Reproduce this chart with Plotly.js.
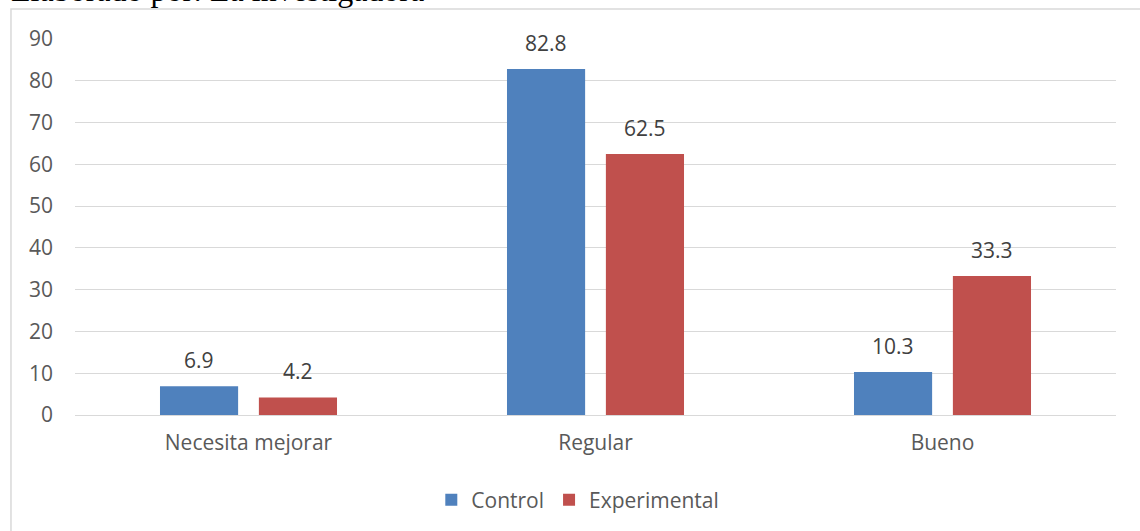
<!DOCTYPE html>
<html><head><meta charset="utf-8">
<script src="https://cdn.plot.ly/plotly-3.0.1.min.js"></script>
<style>html,body{margin:0;padding:0;background:#fff;}#chart{width:1140px;height:531px;}</style>
</head><body><div id="chart"></div>
<script>
const categories = ["Necesita mejorar", "Regular", "Bueno"];
const controlValues = [6.9, 82.8, 10.3];
const experimentalValues = [4.2, 62.5, 33.3];
const seriesNames = ["Control", "Experimental"];
const yTicks = [0, 10, 20, 30, 40, 50, 60, 70, 80, 90];

const colors = ["#4F81BD", "#C0504D"];
const fontFam = "Open Sans, Noto Sans, sans-serif";

const traces = [controlValues, experimentalValues].map((vals, i) => ({
  type: "bar", name: seriesNames[i], x: categories, y: vals,
  marker: {color: colors[i]}, hoverinfo: "skip"
}));

const annotations = [];
[controlValues, experimentalValues].forEach((vals, i) => {
  vals.forEach((v, j) => {
    annotations.push({
      xref: "x", yref: "y", x: categories[j], y: v, text: String(v),
      showarrow: false, yanchor: "bottom", yshift: 10, xshift: i === 0 ? -49.5 : 49.5,
      font: {family: fontFam, size: 21, color: "#404040"}
    });
  });
});
annotations.push({
  xref: "paper", yref: "paper", x: -0.063, y: 1.0758, xanchor: "left", yanchor: "bottom",
  text: "Elaborado por: La investigadora", showarrow: false,
  font: {family: "Liberation Serif, serif", size: 32, color: "#000"}
});

const layout = {
  width: 1140, height: 531,
  margin: {l: 75, r: 24, t: 39, b: 115},
  paper_bgcolor: "#fff", plot_bgcolor: "#fff",
  barmode: "group", bargap: 0.43, bargroupgap: 0.21,
  font: {family: fontFam, color: "#595959", size: 21},
  xaxis: {
    showgrid: false, zeroline: false, showline: false, ticks: "",
    ticklabelstandoff: 13, tickfont: {size: 21, color: "#595959"}
  },
  yaxis: {
    range: [0, 90], tickvals: yTicks, showgrid: true, gridcolor: "#D9D9D9", gridwidth: 1,
    zeroline: true, zerolinecolor: "#D9D9D9", zerolinewidth: 1, showline: false, ticks: "",
    ticklabelstandoff: 21, tickfont: {size: 21, color: "#595959"}
  },
  legend: {
    orientation: "h", x: 0.483, xanchor: "center", y: -0.223, yanchor: "middle",
    font: {size: 21, color: "#595959"}, itemwidth: 30, traceorder: "normal"
  },
  annotations: annotations,
  shapes: [{
    type: "rect", xref: "paper", yref: "paper",
    x0: -0.0615, x1: 1.04, y0: -0.35, y1: 1.0796,
    line: {color: "#D9D9D9", width: 1.5}, fillcolor: "rgba(0,0,0,0)", layer: "below"
  }]
};

Plotly.newPlot("chart", traces, layout, {displayModeBar: false, staticPlot: true});
</script>
</body></html>
